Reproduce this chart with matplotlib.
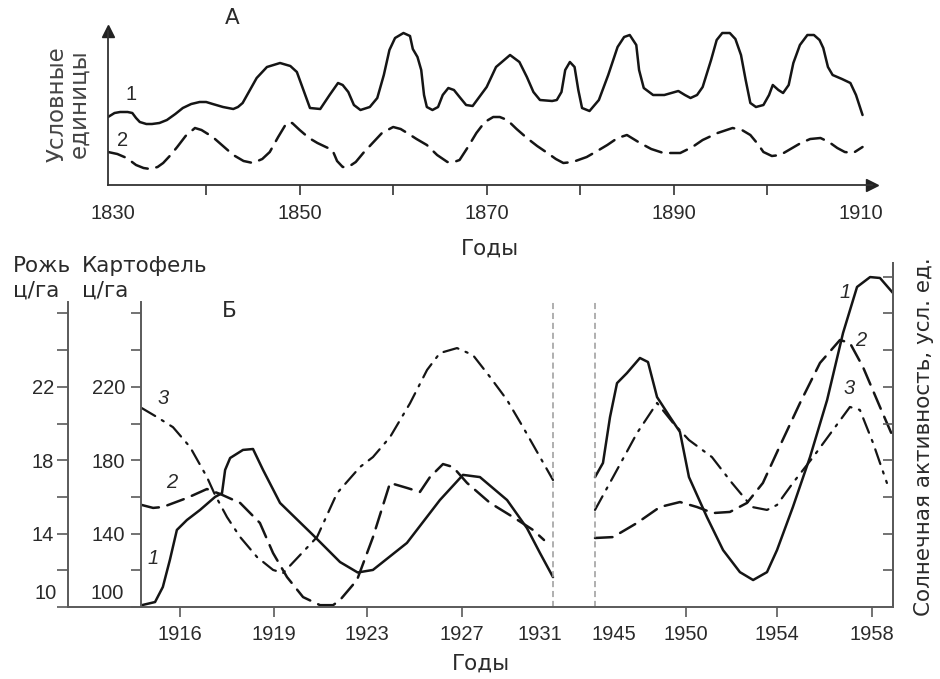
import numpy as np
import matplotlib
matplotlib.use("Agg")
import matplotlib.pyplot as plt
from matplotlib.ticker import NullLocator

plt.rcParams['font.family'] = ['Liberation Sans', 'DejaVu Sans']

# ---------------- Panel A data (conditional units) ----------------
a1_years = [1829.5, 1830.2, 1830.8, 1831.6, 1832.1, 1832.5, 1832.9, 1833.6, 1834.2, 1835.0,
            1835.8, 1836.7, 1837.5, 1838.4, 1839.3, 1840.0, 1840.7, 1841.8, 1842.9, 1843.4,
            1843.9, 1845.4, 1846.5, 1847.9, 1849.0, 1849.7, 1850.4, 1851.1, 1852.2, 1853.2,
            1854.1, 1854.6, 1855.2, 1855.8, 1856.5, 1857.5, 1858.3, 1859.0, 1859.6, 1860.2,
            1861.1, 1861.8, 1862.1, 1862.6, 1863.0, 1863.3, 1863.6, 1864.2, 1864.8, 1865.3,
            1865.9, 1866.5, 1867.1, 1867.8, 1868.5, 1870.0, 1871.0, 1872.5, 1873.5, 1874.3,
            1875.0, 1875.7, 1877.0, 1877.5, 1878.0, 1878.4, 1878.9, 1879.4, 1879.8, 1880.2,
            1881.0, 1882.0, 1883.0, 1884.0, 1884.7, 1885.3, 1886.0, 1886.3, 1886.8, 1887.8,
            1889.0, 1890.5, 1891.2, 1891.8, 1892.5, 1893.1, 1894.0, 1894.6, 1895.2, 1896.0,
            1896.6, 1897.2, 1897.7, 1898.2, 1898.8, 1899.6, 1900.2, 1900.6, 1901.2, 1901.7,
            1902.3, 1902.8, 1903.5, 1904.3, 1905.0, 1905.6, 1906.0, 1906.5, 1907.0, 1908.0,
            1908.9, 1909.5, 1910.2]
a1_values = [6.8, 7.2, 7.3, 7.3, 7.2, 6.7, 6.3, 6.1, 6.1, 6.2,
             6.5, 7.1, 7.7, 8.1, 8.3, 8.3, 8.1, 7.8, 7.6, 7.8,
             8.2, 10.7, 11.8, 12.2, 11.9, 11.3, 9.5, 7.7, 7.6, 9.0,
             10.2, 10.0, 9.3, 8.0, 7.5, 7.8, 8.7, 11.0, 13.5, 14.7,
             15.2, 14.9, 13.6, 12.8, 11.5, 9.0, 7.8, 7.5, 7.8, 9.0,
             9.7, 9.5, 8.8, 8.0, 7.9, 9.8, 11.8, 13.0, 12.3, 10.8,
             9.3, 8.5, 8.4, 8.5, 9.3, 11.5, 12.3, 11.8, 9.5, 7.7,
             7.4, 8.5, 11.0, 13.8, 14.8, 15.0, 14.0, 11.5, 9.7, 9.0,
             9.0, 9.4, 9.0, 8.7, 9.0, 9.8, 12.5, 14.5, 15.2, 15.2,
             14.6, 13.0, 10.5, 8.2, 7.8, 8.0, 9.0, 10.0, 9.5, 9.2,
             10.0, 12.2, 14.0, 15.0, 15.0, 14.5, 13.7, 11.8, 11.0, 10.6,
             10.2, 9.0, 7.0]

a2_years = [1829.5, 1830.5, 1831.5, 1832.5, 1833.3, 1834.0, 1834.8, 1835.4, 1836.2, 1836.9,
            1837.8, 1838.8, 1839.5, 1840.7, 1841.8, 1842.9, 1844.0, 1845.0, 1846.0, 1846.8,
            1847.7, 1848.6, 1849.2, 1850.0, 1851.0, 1851.9, 1852.8, 1853.5, 1854.0, 1854.6,
            1855.2, 1856.0, 1856.8, 1857.8, 1858.8, 1860.0, 1860.8, 1861.5, 1862.5, 1863.6,
            1864.7, 1865.8, 1866.5, 1867.1, 1868.0, 1868.9, 1869.8, 1870.7, 1871.4, 1872.2,
            1873.2, 1874.3, 1875.4, 1876.5, 1877.4, 1878.2, 1879.2, 1880.7, 1882.0, 1882.9,
            1884.0, 1885.0, 1886.4, 1887.6, 1888.9, 1890.7, 1892.0, 1893.1, 1894.7, 1896.3,
            1897.3, 1898.2, 1899.0, 1899.6, 1900.5, 1901.4, 1902.5, 1903.6, 1904.6, 1905.7,
            1906.6, 1907.5, 1908.3, 1909.2, 1910.2]
a2_values = [3.3, 3.1, 2.7, 2.0, 1.7, 1.6, 1.8, 2.2, 3.0, 3.8,
             4.9, 5.7, 5.5, 4.8, 3.9, 3.0, 2.4, 2.2, 2.6, 3.3,
             4.8, 6.2, 6.2, 5.5, 4.7, 4.2, 3.8, 3.5, 2.4, 1.8,
             1.8, 2.3, 3.2, 4.2, 5.2, 5.8, 5.6, 5.2, 4.6, 4.0,
             3.0, 2.3, 2.3, 2.5, 3.8, 5.2, 6.3, 6.8, 6.8, 6.5,
             5.6, 4.7, 3.9, 3.2, 2.6, 2.2, 2.3, 2.8, 3.5, 4.0,
             4.7, 5.0, 4.2, 3.6, 3.2, 3.2, 3.8, 4.5, 5.2, 5.7,
             5.5, 5.0, 4.1, 3.3, 2.9, 3.0, 3.6, 4.2, 4.6, 4.7,
             4.3, 3.7, 3.3, 3.2, 3.8]

a_tick_years = [1830, 1840, 1850, 1860, 1870, 1880, 1890, 1900, 1910]
a_tick_labels = ['1830', '', '1850', '', '1870', '', '1890', '', '1910']

# ---------------- Panel B data (potato units, c/ha; rye = potato / 10) ----------------
b1_left_years = [1915.02, 1915.36, 1915.56, 1915.74, 1915.92, 1916.22, 1916.64, 1917.12, 1917.34, 1917.44,
                 1917.6, 1918.01, 1918.33, 1918.65, 1919.26, 1920.68, 1921.84, 1922.6, 1923.25, 1924.68,
                 1926.07, 1927.05, 1927.92, 1929.31, 1930.33, 1931.0, 1932.0]
b1_left_values = [101, 102.7, 110.9, 125.6, 142, 147.4, 152.9, 160, 162, 174.7,
                  181.2, 185.6, 186.1, 174.7, 156.7, 139.2, 124.5, 118.8, 120.2, 134.9,
                  158.3, 172, 170.8, 158.3, 143, 129.4, 116.3]

b2_left_years = [1915.02, 1915.31, 1915.56, 1916.22, 1916.86, 1917.28, 1917.92, 1918.55, 1918.97, 1919.56,
                 1920.25, 1920.98, 1921.54, 1921.84, 1922.57, 1923.25, 1923.97, 1924.68, 1925.23, 1925.65,
                 1926.2, 1926.62, 1927.26, 1928.44, 1929.62, 1930.64, 1931.31]
b2_left_values = [155.6, 154, 154.5, 159.4, 164.3, 161.6, 156.7, 145.8, 129.4, 116.3,
                  105.4, 101, 101, 103.8, 114.7, 138, 167.6, 164.9, 162.7, 170.8,
                  177.9, 176.3, 167.6, 156.7, 149, 142, 136.5]

b3_left_years = [1915.02, 1915.41, 1915.82, 1916.32, 1916.86, 1917.12, 1917.5, 1917.92, 1918.46, 1918.97,
                 1919.39, 1920.85, 1921.71, 1922.7, 1923.25, 1923.97, 1924.81, 1925.53, 1926.07, 1926.79,
                 1927.56, 1928.44, 1929.31, 1930.13, 1931.0, 1932.0]
b3_left_values = [208.4, 203.5, 198, 187.2, 170.8, 161, 149, 138.1, 127.2, 120.2,
                  118.5, 138.1, 162, 176.3, 181.7, 192.6, 211, 229.2, 238.4, 241.1,
                  237.3, 225.3, 212.8, 198, 181.7, 169.2]

b1_right_years = [1944.0, 1944.42, 1944.79, 1945.21, 1945.9, 1946.8, 1947.36, 1947.99, 1948.89, 1949.58,
                  1950.13, 1950.92, 1951.63, 1952.37, 1952.95, 1953.56, 1954.0, 1954.67, 1955.39, 1956.11,
                  1956.78, 1957.37, 1957.92, 1958.38, 1959.0]
b1_right_values = [170.8, 178.5, 203.5, 222, 227.5, 235.7, 233.5, 214.4, 203.5, 195.4,
                   170.8, 149, 131, 119, 114.7, 119, 131, 154.5, 181.7, 212.8,
                   249.3, 274.4, 279.8, 279.3, 271.1]

b2_right_years = [1944.0, 1944.95, 1946.6, 1948.19, 1949.58, 1950.48, 1951.19, 1951.93, 1952.68, 1953.38,
                  1954.13, 1954.97, 1955.81, 1956.65, 1957.07, 1957.62, 1958.38, 1959.0]
b2_right_values = [137.6, 138.1, 145.8, 154.5, 157.2, 154.5, 151.2, 151.8, 156.7, 167.6,
                   188, 211.2, 233, 245.5, 243.9, 230.8, 209, 192.6]

b3_right_years = [1944.0, 1944.95, 1946.6, 1947.99, 1949.1, 1950.13, 1951.14, 1952.02, 1952.9, 1953.56,
                  1954.0, 1954.67, 1955.52, 1956.36, 1957.07, 1957.49, 1958.05, 1958.71]
b3_right_values = [152.9, 170.8, 194.8, 211.2, 200.3, 191, 181.7, 167.6, 154.5, 152.9,
                   155.6, 167.6, 181.7, 196.5, 209, 207.4, 189.4, 167.6]

b_tick_years = [1916, 1919, 1923, 1927, 1931, 1945, 1950, 1954, 1958]
b_tick_labels = ['1916', '1919', '1923', '1927', '1931', '1945', '1950', '1954', '1958']
b_break_years = [1932, 1944]

potato_ticks = [100, 120, 140, 160, 180, 200, 220, 240, 260]
potato_labels = ['', '', '140', '', '180', '', '220', '', '']
rye_ticks = [10, 12, 14, 16, 18, 20, 22, 24, 26]
rye_labels = ['', '', '14', '', '18', '', '22', '', '']
sun_ticks = [120, 140, 160, 180, 200, 220, 240, 260, 280]

# non-uniform year axis of the original drawing (year -> drawing position)
scale_years = [1915, 1916, 1919, 1923, 1927, 1931, 1932, 1944, 1945, 1950, 1954, 1958, 1959]
scale_pos = [141, 180, 274, 367, 462, 540, 553, 595, 614, 686, 777, 872, 893]


def fwd(x):
    return np.interp(x, scale_years, scale_pos)


def inv(u):
    return np.interp(u, scale_pos, scale_years)


# ---------------- Figure ----------------
W, H = 940, 679
fig = plt.figure(figsize=(W / 100, H / 100), dpi=100)


def box(l, t, r, b):
    return [l / W, 1 - b / H, (r - l) / W, (b - t) / H]


TXT = '#2a2a2a'
LINE = '#151515'
FS = 14.5          # digits
FW = 15.5          # words
WFAM = ['DejaVu Sans']

solid = dict(color=LINE, lw=1.8, solid_joinstyle='round', solid_capstyle='round')
dashed = dict(color=LINE, lw=1.8, linestyle=(0, (7, 3.5)), dash_capstyle='round')
dashdot = dict(color=LINE, lw=1.6, linestyle=(0, (7, 3.5, 1, 3.5)), dash_capstyle='round')

# ---------- Panel A ----------
axA = fig.add_axes(box(108, 31, 872, 185))
axA.plot(a1_years, a1_values, **solid)
axA.plot(a2_years, a2_values, **dashed)
axA.set_xlim(1829.5, 1829.5 + (872 - 108) / 9.35)
axA.set_ylim(0, 15.4)
for s in ['top', 'right']:
    axA.spines[s].set_visible(False)
for s in ['left', 'bottom']:
    axA.spines[s].set_color('#333333')
    axA.spines[s].set_linewidth(1.3)
axA.set_yticks([])
axA.set_xticks(a_tick_years, labels=a_tick_labels)
axA.tick_params(axis='x', direction='out', length=7, width=1.2, pad=7,
                labelsize=FS, colors='#333333', labelcolor=TXT)
for t, yr in zip(axA.xaxis.get_major_ticks(), a_tick_years):
    if yr in (1830, 1910):
        t.tick1line.set_visible(False)
axA.plot(1, 0, marker='>', color='#222222', markersize=9, transform=axA.transAxes, clip_on=False)
axA.plot(0, 1, marker='^', color='#222222', markersize=9, transform=axA.transAxes, clip_on=False)
fig.text(232 / W, 1 - 18 / H, 'А', fontsize=FW, family=WFAM, color=TXT, ha='center', va='center')
fig.text(490 / W, 1 - 249 / H, 'Годы', fontsize=FW, family=WFAM, color=TXT, ha='center', va='center')
fig.text(68 / W, 1 - 104 / H, 'Условные\nединицы', fontsize=16.5, family=WFAM, color='#444444',
         ha='center', va='center', rotation=90, linespacing=0.9)
fig.text(131 / W, 1 - 94 / H, '1', fontsize=FS, color=TXT, ha='center', va='center')
fig.text(123 / W, 1 - 140 / H, '2', fontsize=FS, color=TXT, ha='center', va='center')

# ---------- Panel B ----------
axB = fig.add_axes(box(141, 263, 893, 607))
axB.set_xscale('function', functions=(fwd, inv))
axB.set_xlim(scale_years[0], scale_years[-1])
axB.set_ylim(100, 100 + (607 - 263) / 1.835)
axB.plot(b1_left_years, b1_left_values, **solid)
axB.plot(b2_left_years, b2_left_values, **dashed)
axB.plot(b3_left_years, b3_left_values, **dashdot)
axB.plot(b1_right_years, b1_right_values, **solid)
axB.plot(b2_right_years, b2_right_values, **dashed)
axB.plot(b3_right_years, b3_right_values, **dashdot)
axB.vlines(b_break_years, 100, 100 + (607 - 302) / 1.835, colors='#9a9a9a',
           linestyles=(0, (4, 2.5)), lw=1.1)

spine_col = '#5a5a5a'
axB.spines['top'].set_visible(False)
for s in ['left', 'bottom', 'right']:
    axB.spines[s].set_color(spine_col)
    axB.spines[s].set_linewidth(1.4)
axB.spines['left'].set_bounds(100, 100 + (607 - 302) / 1.835)
axB.set_xticks(b_tick_years, labels=b_tick_labels)
axB.xaxis.set_minor_locator(NullLocator())
axB.tick_params(axis='x', direction='out', length=7, width=1.2, pad=6,
                labelsize=FS, colors=spine_col, labelcolor=TXT)
for t, yr in zip(axB.xaxis.get_major_ticks(), b_tick_years):
    if yr in (1931, 1945):
        t.tick1line.set_visible(False)
axB.set_yticks(potato_ticks, labels=potato_labels)
axB.yaxis.set_minor_locator(NullLocator())
axB.tick_params(axis='y', direction='out', length=7.5, width=1.2, pad=4,
                labelsize=FS, colors=spine_col, labelcolor=TXT)
axB.annotate('100', xy=(0, 107.6), xycoords=('axes fraction', 'data'), xytext=(-12, 0),
             textcoords='offset points', ha='right', va='center', fontsize=FS, color=TXT)

# right (solar activity) axis ticks
axS = axB.twinx()
axS.set_ylim(axB.get_ylim())
axS.set_yticks(sun_ticks, labels=[''] * len(sun_ticks))
axS.yaxis.set_minor_locator(NullLocator())
axS.tick_params(axis='y', direction='in', length=7.5, width=1.2, colors=spine_col)
for s in ['top', 'left', 'bottom']:
    axS.spines[s].set_visible(False)
axS.spines['right'].set_color(spine_col)
axS.spines['right'].set_linewidth(1.4)

# rye axis
axR = fig.add_axes(box(68, 263, 141, 607))
axR.patch.set_visible(False)
axR.set_ylim(10, 10 + (607 - 263) / 18.35)
axR.set_xlim(0, 1)
axR.set_xticks([])
for s in ['top', 'right']:
    axR.spines[s].set_visible(False)
for s in ['left', 'bottom']:
    axR.spines[s].set_color(spine_col)
    axR.spines[s].set_linewidth(1.4)
axR.spines['left'].set_bounds(10, 10 + (607 - 302) / 18.35)
axR.set_yticks(rye_ticks, labels=rye_labels)
axR.yaxis.set_minor_locator(NullLocator())
axR.tick_params(axis='y', direction='out', length=8, width=1.2, pad=2,
                labelsize=FS, colors=spine_col, labelcolor=TXT)
axR.annotate('10', xy=(0, 10.76), xycoords=('axes fraction', 'data'), xytext=(-8, 0),
             textcoords='offset points', ha='right', va='center', fontsize=FS, color=TXT)

# labels panel B
for (x, y, s) in [(13, 266, 'Рожь'), (13, 291, 'ц/га'), (82, 266, 'Картофель'), (82, 291, 'ц/га')]:
    fig.text(x / W, 1 - y / H, s, fontsize=FW, family=WFAM, color=TXT, ha='left', va='center')
fig.text(229 / W, 1 - 311 / H, 'Б', fontsize=FW, family=WFAM, color=TXT, ha='center', va='center')
fig.text(481 / W, 1 - 664 / H, 'Годы', fontsize=FW, family=WFAM, color=TXT, ha='center', va='center')
fig.text(924 / W, 1 - 437 / H, 'Солнечная активность, усл. ед.', fontsize=FW, family=WFAM,
         color=TXT, ha='center', va='center', rotation=90)

for (x, y, s) in [(163, 398, '3'), (172, 483, '2'), (153, 558, '1'),
                  (845, 293, '1'), (861, 340, '2'), (849, 388, '3')]:
    fig.text(x / W, 1 - y / H, s, fontsize=FS, color=TXT, ha='center', va='center', style='italic')

fig.savefig('out.png', dpi=100)
